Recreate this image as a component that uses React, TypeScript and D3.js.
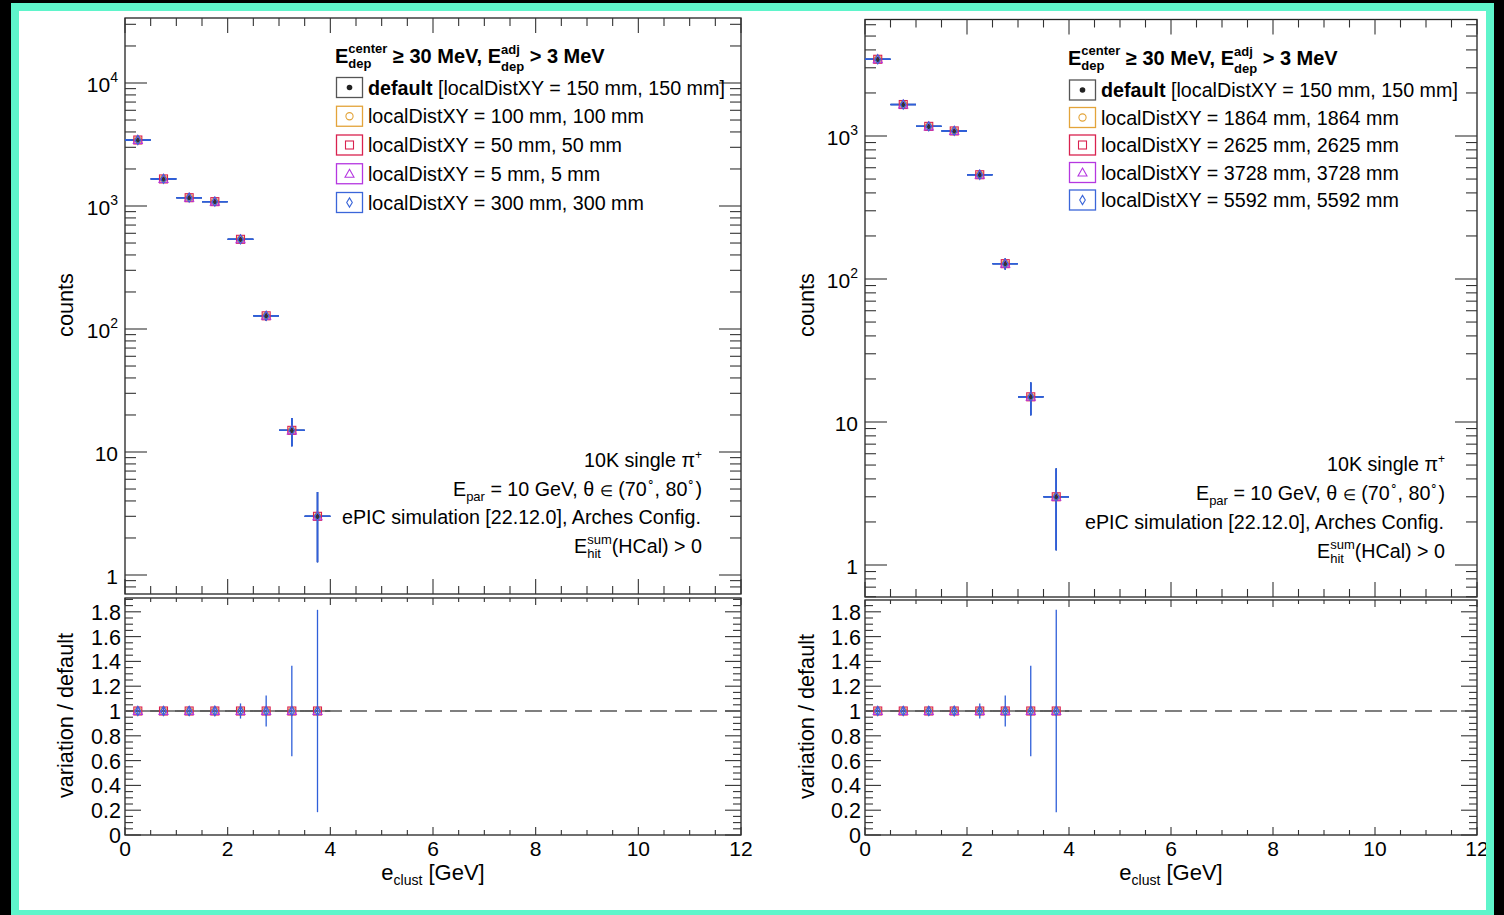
import React from 'react';
import * as d3 from 'd3';

// ---------- data ----------
const binCenters = [0.25, 0.75, 1.25, 1.75, 2.25, 2.75, 3.25, 3.75];
const binWidth = 0.5;
const counts = [3440, 1660, 1168, 1085, 536, 128, 15, 3];
const countErrors = [58.7, 40.7, 34.2, 32.9, 23.2, 11.3, 3.87, 1.73];
const ratioValues = [1, 1, 1, 1, 1, 1, 1, 1];
const ratioErrors = [0.024, 0.035, 0.041, 0.043, 0.061, 0.125, 0.365, 0.816];

const leftLegendLabels = [
  'localDistXY = 100 mm, 100 mm',
  'localDistXY = 50 mm, 50 mm',
  'localDistXY = 5 mm, 5 mm',
  'localDistXY = 300 mm, 300 mm',
];
const rightLegendLabels = [
  'localDistXY = 1864 mm, 1864 mm',
  'localDistXY = 2625 mm, 2625 mm',
  'localDistXY = 3728 mm, 3728 mm',
  'localDistXY = 5592 mm, 5592 mm',
];
const defaultLabel = 'default';
const defaultLabelRest = ' [localDistXY = 150 mm, 150 mm]';
const seriesColors = ['#333333', '#e3a43a', '#d9224f', '#b537e0', '#3b66d9'];
const seriesShapes = ['dot', 'circle', 'square', 'triangle', 'diamond'];
const errorColor = '#2f5fd9';
const xMajorTicks = [0, 2, 4, 6, 8, 10, 12];
const ratioMajorTicks = [0, 0.2, 0.4, 0.6, 0.8, 1, 1.2, 1.4, 1.6, 1.8];

const FONT = '"Liberation Sans", Arial, Helvetica, sans-serif';

// ---------- text helpers ----------
let _ctx: CanvasRenderingContext2D | null = null;
function measure(t: string, size: number, bold?: boolean) {
  if (!_ctx) _ctx = document.createElement('canvas').getContext('2d');
  if (!_ctx) return t.length * size * 0.5;
  _ctx.font = `${bold ? 'bold ' : ''}${size}px ${FONT}`;
  return _ctx.measureText(t).width;
}

type Piece = { t: string; size: number; bold?: boolean; dy?: number; stack?: boolean };

function RichText({ x, y, pieces, anchor = 'start', fill = '#000' }: { x: number; y: number; pieces: Piece[]; anchor?: string; fill?: string }) {
  let cursor = 0;
  let prevStart = 0;
  const items: any[] = [];
  for (const p of pieces) {
    const w = measure(p.t, p.size, p.bold);
    let px;
    if (p.stack) {
      px = prevStart;
      cursor = Math.max(cursor, px + w);
    } else {
      px = cursor;
      prevStart = px;
      cursor = px + w;
    }
    items.push({ ...p, px });
  }
  const width = cursor;
  const x0 = anchor === 'end' ? x - width : anchor === 'middle' ? x - width / 2 : x;
  return (
    <g>
      {items.map((it, i) => (
        <text
          key={i}
          x={x0 + it.px}
          y={y + (it.dy || 0)}
          fontSize={it.size}
          fontWeight={it.bold ? 'bold' : 'normal'}
          fontFamily={FONT}
          fill={fill}
          style={{ whiteSpace: 'pre' }}
        >
          {it.t}
        </text>
      ))}
    </g>
  );
}

function Marker({ shape, cx, cy, color }: { shape: string; cx: number; cy: number; color: string }) {
  switch (shape) {
    case 'dot':
      return <circle cx={cx} cy={cy} r={2.8} fill={color} />;
    case 'circle':
      return <circle cx={cx} cy={cy} r={3.6} fill="none" stroke={color} strokeWidth={1.1} />;
    case 'square':
      return <rect x={cx - 4} y={cy - 4} width={8} height={8} fill="none" stroke={color} strokeWidth={1.1} />;
    case 'triangle':
      return <path d={`M${cx},${cy - 4.5}L${cx + 4.5},${cy + 3.5}L${cx - 4.5},${cy + 3.5}Z`} fill="none" stroke={color} strokeWidth={1.1} />;
    case 'diamond':
      return <path d={`M${cx},${cy - 4.6}L${cx + 2.8},${cy}L${cx},${cy + 4.6}L${cx - 2.8},${cy}Z`} fill="none" stroke={color} strokeWidth={1.1} />;
    default:
      return null;
  }
}

type Cfg = {
  x0: number; x1: number;
  upTop: number; upBottom: number; upDomain: [number, number];
  loTop: number; loBottom: number; loMax: number;
  legendX: number; headerY: number; rowY0: number; rowStep: number;
  legendLabels: string[];
  infoX: number; infoY0: number; infoStep: number;
  yTitleX: number; countsY: number;
};

const TICK = '#333';

function Panel({ cfg }: { cfg: Cfg }) {
  const { x0, x1, upTop, upBottom, loTop, loBottom } = cfg;
  const x = d3.scaleLinear().domain([0, 12]).range([x0, x1]);
  const yUp = d3.scaleLog().domain(cfg.upDomain).range([upBottom, upTop]);
  const yLo = d3.scaleLinear().domain([0, cfg.loMax]).range([loBottom, loTop]);

  const xMinor = d3.range(0, 12.001, 0.5).filter((v) => !xMajorTicks.includes(v));
  const [lo, hi] = cfg.upDomain;
  const logMajor: number[] = [];
  const logMinor: number[] = [];
  for (let e = -1; e <= 5; e++) {
    for (let d = 1; d <= 9; d++) {
      const v = d * Math.pow(10, e);
      if (v < lo || v > hi) continue;
      if (d === 1) logMajor.push(v);
      else logMinor.push(v);
    }
  }
  const ratioMinor = d3.range(0, cfg.loMax, 0.05).filter((v) => !ratioMajorTicks.some((m) => Math.abs(m - v) < 1e-6));

  const els: React.ReactNode[] = [];
  let k = 0;
  const line = (xa: number, ya: number, xb: number, yb: number, stroke = TICK, w = 1.1) =>
    els.push(<line key={k++} x1={xa} y1={ya} x2={xb} y2={yb} stroke={stroke} strokeWidth={w} />);

  // ---- upper panel ticks ----
  xMajorTicks.forEach((v) => {
    line(x(v), upBottom, x(v), upBottom - 15);
    line(x(v), upTop, x(v), upTop + 15);
  });
  xMinor.forEach((v) => {
    line(x(v), upBottom, x(v), upBottom - 8);
    line(x(v), upTop, x(v), upTop + 8);
  });
  logMajor.forEach((v) => {
    line(x0, yUp(v), x0 + 22, yUp(v));
    line(x1, yUp(v), x1 - 22, yUp(v));
  });
  logMinor.forEach((v) => {
    line(x0, yUp(v), x0 + 11, yUp(v));
    line(x1, yUp(v), x1 - 11, yUp(v));
  });

  // ---- lower panel ticks ----
  xMajorTicks.forEach((v) => {
    line(x(v), loBottom, x(v), loBottom - 8);
    line(x(v), loTop, x(v), loTop + 7);
  });
  xMinor.forEach((v) => {
    line(x(v), loBottom, x(v), loBottom - 5);
    line(x(v), loTop, x(v), loTop + 4);
  });
  ratioMajorTicks.forEach((v) => {
    line(x0, yLo(v), x0 + 16, yLo(v));
    line(x1, yLo(v), x1 - 16, yLo(v));
  });
  ratioMinor.forEach((v) => {
    line(x0, yLo(v), x0 + 8, yLo(v));
    line(x1, yLo(v), x1 - 8, yLo(v));
  });

  // ---- upper data ----
  const dataEls: React.ReactNode[] = [];
  seriesColors.forEach((c, s) => {
    binCenters.forEach((bc, i) => {
      const cy = yUp(counts[i]);
      dataEls.push(<line key={`eh${s}-${i}`} x1={x(bc - binWidth / 2)} x2={x(bc + binWidth / 2)} y1={cy} y2={cy} stroke={s === 0 ? c : errorColor} strokeWidth={1.3} />);
      dataEls.push(<line key={`ev${s}-${i}`} x1={x(bc)} x2={x(bc)} y1={yUp(counts[i] - countErrors[i])} y2={yUp(counts[i] + countErrors[i])} stroke={s === 0 ? c : errorColor} strokeWidth={1.3} />);
    });
  });
  seriesColors.forEach((c, s) => {
    binCenters.forEach((bc, i) => {
      dataEls.push(<Marker key={`m${s}-${i}`} shape={seriesShapes[s]} cx={x(bc)} cy={yUp(counts[i])} color={c} />);
    });
  });

  // ---- ratio data ----
  const ratioEls: React.ReactNode[] = [];
  ratioEls.push(<line key="one" x1={x0} x2={x1} y1={yLo(1)} y2={yLo(1)} stroke="#555" strokeWidth={1.4} strokeDasharray="17 8" />);
  binCenters.forEach((bc, i) => {
    const cy = yLo(ratioValues[i]);
    ratioEls.push(<line key={`rh${i}`} x1={x(bc - binWidth / 2)} x2={x(bc + binWidth / 2)} y1={cy} y2={cy} stroke="#555" strokeWidth={1.4} />);
    ratioEls.push(<line key={`rv${i}`} x1={x(bc)} x2={x(bc)} y1={yLo(ratioValues[i] - ratioErrors[i])} y2={yLo(ratioValues[i] + ratioErrors[i])} stroke={errorColor} strokeWidth={1.3} />);
  });
  for (let s = 1; s < seriesColors.length; s++) {
    binCenters.forEach((bc, i) => {
      ratioEls.push(<Marker key={`rm${s}-${i}`} shape={seriesShapes[s]} cx={x(bc)} cy={yLo(ratioValues[i])} color={seriesColors[s]} />);
    });
  }

  // ---- labels ----
  const labelEls: React.ReactNode[] = [];
  logMajor.forEach((v, i) => {
    const e = Math.round(Math.log10(v));
    const pieces: Piece[] = e === 0 ? [{ t: '1', size: 21 }] : e === 1 ? [{ t: '10', size: 21 }] : [{ t: '10', size: 21 }, { t: String(e), size: 14, dy: -10 }];
    labelEls.push(<RichText key={`yl${i}`} x={x0 - 7} y={yUp(v) + 9} pieces={pieces} anchor="end" />);
  });
  ratioMajorTicks.forEach((v, i) => {
    labelEls.push(
      <text key={`rl${i}`} x={x0 - 4} y={yLo(v) + 8} fontSize={21.5} fontFamily={FONT} textAnchor="end">
        {String(+v.toFixed(1))}
      </text>
    );
  });
  xMajorTicks.forEach((v, i) => {
    labelEls.push(
      <text key={`xl${i}`} x={x(v)} y={loBottom + 21} fontSize={21} fontFamily={FONT} textAnchor="middle">
        {String(v)}
      </text>
    );
  });
  labelEls.push(
    <text key="ct" transform={`translate(${cfg.yTitleX},${cfg.countsY}) rotate(-90)`} fontSize={21.7} fontFamily={FONT} textAnchor="middle">counts</text>
  );
  labelEls.push(
    <text key="vt" transform={`translate(${cfg.yTitleX},${(loTop + loBottom) / 2 - 1}) rotate(-90)`} fontSize={21.7} fontFamily={FONT} textAnchor="middle">variation / default</text>
  );
  labelEls.push(
    <RichText key="xt" x={(x0 + x1) / 2} y={loBottom + 45} anchor="middle" pieces={[
      { t: 'e', size: 22 },
      { t: 'clust', size: 14, dy: 5 },
      { t: ' [GeV]', size: 22 },
    ]} />
  );

  // ---- legend ----
  const L = cfg.legendX;
  const legendEls: React.ReactNode[] = [];
  legendEls.push(
    <RichText key="hdr" x={L} y={cfg.headerY} pieces={[
      { t: 'E', size: 20, bold: true },
      { t: 'center', size: 13, bold: true, dy: -10 },
      { t: 'dep', size: 13, bold: true, dy: 5, stack: true },
      { t: ' ≥ 30 MeV, E', size: 20, bold: true },
      { t: 'adj', size: 13, bold: true, dy: -9 },
      { t: 'dep', size: 13, bold: true, dy: 8, stack: true },
      { t: ' > 3 MeV', size: 20, bold: true },
    ]} />
  );
  const rowLabels = [null, ...cfg.legendLabels];
  rowLabels.forEach((lab, r) => {
    const cy = cfg.rowY0 + r * cfg.rowStep;
    const color = r === 0 ? '#555' : seriesColors[r];
    legendEls.push(<rect key={`lb${r}`} x={L + 1.5} y={cy - 10} width={26} height={20} fill="none" stroke={color} strokeWidth={1.3} />);
    legendEls.push(<Marker key={`lm${r}`} shape={seriesShapes[r]} cx={L + 14.5} cy={cy} color={r === 0 ? '#222' : seriesColors[r]} />);
    if (r === 0) {
      legendEls.push(
        <RichText key={`lt${r}`} x={L + 33} y={cy + 7} pieces={[
          { t: defaultLabel, size: 19.7, bold: true },
          { t: defaultLabelRest, size: 19.7 },
        ]} />
      );
    } else {
      legendEls.push(
        <text key={`lt${r}`} x={L + 33} y={cy + 7} fontSize={19.7} fontFamily={FONT}>{lab}</text>
      );
    }
  });

  // ---- info text ----
  const ix = cfg.infoX;
  const iy = cfg.infoY0;
  const st = cfg.infoStep;
  const infoEls = [
    <RichText key="i0" x={ix} y={iy} anchor="end" pieces={[{ t: '10K single π', size: 19.7 }, { t: '+', size: 12, dy: -8 }]} />,
    <RichText key="i1" x={ix} y={iy + st} anchor="end" pieces={[
      { t: 'E', size: 19.7 }, { t: 'par', size: 13, dy: 5 }, { t: ' = 10 GeV, θ ', size: 19.7 }, { t: '∈', size: 15 }, { t: ' (70', size: 19.7 },
      { t: '∘', size: 12, dy: -10 }, { t: ', 80', size: 19.7 }, { t: '∘', size: 12, dy: -10 }, { t: ')', size: 19.7 },
    ]} />,
    <RichText key="i2" x={ix} y={iy + 2 * st} anchor="end" pieces={[{ t: 'ePIC simulation [22.12.0], Arches Config.', size: 19.7 }]} />,
    <RichText key="i3" x={ix} y={iy + 3 * st} anchor="end" pieces={[
      { t: 'E', size: 19.7 }, { t: 'sum', size: 13, dy: -9 }, { t: 'hit', size: 13, dy: 5, stack: true }, { t: '(HCal) > 0', size: 19.7 },
    ]} />,
  ];

  return (
    <g>
      <rect x={x0} y={upTop} width={x1 - x0} height={upBottom - upTop} fill="none" stroke="#222" strokeWidth={1.3} />
      <rect x={x0} y={loTop} width={x1 - x0} height={loBottom - loTop} fill="none" stroke="#222" strokeWidth={1.3} />
      {els}
      {ratioEls}
      {dataEls}
      {labelEls}
      {legendEls}
      {infoEls}
    </g>
  );
}

const leftCfg: Cfg = {
  x0: 125, x1: 741,
  upTop: 18, upBottom: 594, upDomain: [Math.pow(10, -19 / 123), Math.pow(10, 557 / 123)],
  loTop: 598, loBottom: 835, loMax: 237 / 124,
  legendX: 335, headerY: 63, rowY0: 87.5, rowStep: 28.75,
  legendLabels: leftLegendLabels,
  infoX: 702, infoY0: 467, infoStep: 28.5,
  yTitleX: 73, countsY: 305,
};
const rightCfg: Cfg = {
  x0: 865, x1: 1477,
  upTop: 19.5, upBottom: 597, upDomain: [Math.pow(10, -32 / 143), Math.pow(10, 545.5 / 143)],
  loTop: 600, loBottom: 835, loMax: 235 / 124,
  legendX: 1068, headerY: 65, rowY0: 90, rowStep: 27.5,
  legendLabels: rightLegendLabels,
  infoX: 1445, infoY0: 470.5, infoStep: 29.3,
  yTitleX: 814, countsY: 305,
};

export default function App() {
  return (
    <svg width={1504} height={915} style={{ position: 'fixed', left: 0, top: 0 }} fontFamily={FONT}>
      <rect x={0} y={0} width={1504} height={915} fill="#000" />
      <rect x={11} y={3} width={1483} height={912} fill="#fff" />
      <Panel cfg={leftCfg} />
      <Panel cfg={rightCfg} />
      <rect x={15} y={7} width={1475} height={907} fill="none" stroke="#5ff5cb" strokeWidth={8} />
    </svg>
  );
}
